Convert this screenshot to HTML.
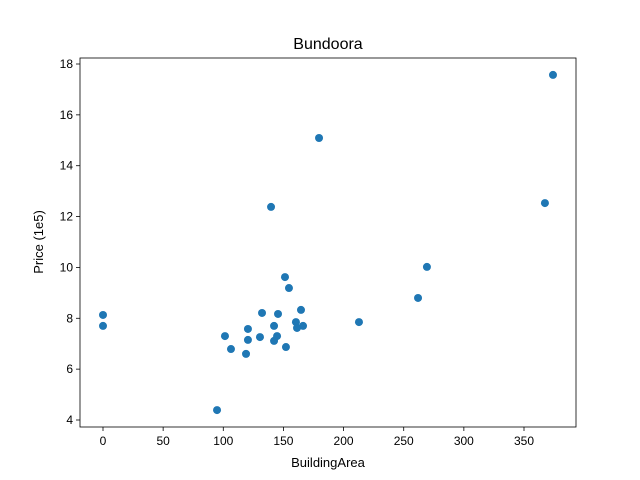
<!DOCTYPE html>
<html><head><meta charset="utf-8">
<style>
body{margin:0;background:#fff;}
svg{display:block;font-family:"Liberation Sans","DejaVu Sans",sans-serif;}
</style></head>
<body>
<svg id="chart" width="640" height="480">
<rect width="640" height="480" fill="#fff"/>
<text x="328" y="49" text-anchor="middle" font-size="16">Bundoora</text>
<text x="328" y="467" text-anchor="middle" font-size="13">BuildingArea</text>
<text x="0" y="0" transform="translate(43,242) rotate(-90)" text-anchor="middle" font-size="13">Price (1e5)</text>
<g id="marks"></g>
<g id="axes"></g>
</svg>
<script>
const areaValues=[0,0,94.8,101.4,106.4,118.9,120.5,120.5,130.5,132.2,139.7,142.2,142.2,144.7,145.5,151.3,152.1,154.6,160.4,161.3,164.6,166.3,179.6,212.8,261.9,269.3,367.4,374.1];
const priceValues=[8.13,7.70,4.39,7.30,6.79,6.60,7.58,7.15,7.26,8.21,12.38,7.70,7.11,7.30,8.17,9.62,6.87,9.19,7.85,7.62,8.33,7.70,15.09,7.85,8.80,10.02,12.53,17.57];
const xTicks=[0,50,100,150,200,250,300,350];
const yTicks=[4,6,8,10,12,14,16,18];

const L=80,R=576,T=58,B=427;
const sx=v=>103+v*(524-103)/350;
const sy=v=>420-(v-4)*(420-64)/14;
const NS="http://www.w3.org/2000/svg";
const marks=document.getElementById('marks');
const axes=document.getElementById('axes');
for(let i=0;i<areaValues.length;i++){
  const c=document.createElementNS(NS,'circle');
  c.setAttribute('cx',sx(areaValues[i]));
  c.setAttribute('cy',sy(priceValues[i]));
  c.setAttribute('r',4);
  c.setAttribute('fill','#1f77b4');
  
  
  marks.appendChild(c);
}
const frame=document.createElementNS(NS,'rect');
frame.setAttribute('x',L);frame.setAttribute('y',T);
frame.setAttribute('width',R-L);frame.setAttribute('height',B-T);
frame.setAttribute('fill','none');frame.setAttribute('stroke','#000');frame.setAttribute('stroke-width','0.8');


axes.appendChild(frame);
xTicks.forEach(t=>{
  const x=sx(t);
  const l=document.createElementNS(NS,'line');
  l.setAttribute('x1',x);l.setAttribute('x2',x);l.setAttribute('y1',B);l.setAttribute('y2',B+4);
  l.setAttribute('stroke','#000');l.setAttribute('stroke-width','0.8');
  
  
  axes.appendChild(l);
  const tx=document.createElementNS(NS,'text');
  tx.setAttribute('x',x);tx.setAttribute('y',B+18);tx.setAttribute('text-anchor','middle');tx.setAttribute('font-size','12');
  tx.textContent=t;
  
  
  axes.appendChild(tx);
});
yTicks.forEach(t=>{
  const y=sy(t);
  const l=document.createElementNS(NS,'line');
  l.setAttribute('x1',L-4);l.setAttribute('x2',L);l.setAttribute('y1',y);l.setAttribute('y2',y);
  l.setAttribute('stroke','#000');l.setAttribute('stroke-width','0.8');
  
  
  axes.appendChild(l);
  const tx=document.createElementNS(NS,'text');
  tx.setAttribute('x',L-7);tx.setAttribute('y',y+4);tx.setAttribute('text-anchor','end');tx.setAttribute('font-size','12');
  tx.textContent=t;
  
  
  axes.appendChild(tx);
});
</script>
</body></html>
